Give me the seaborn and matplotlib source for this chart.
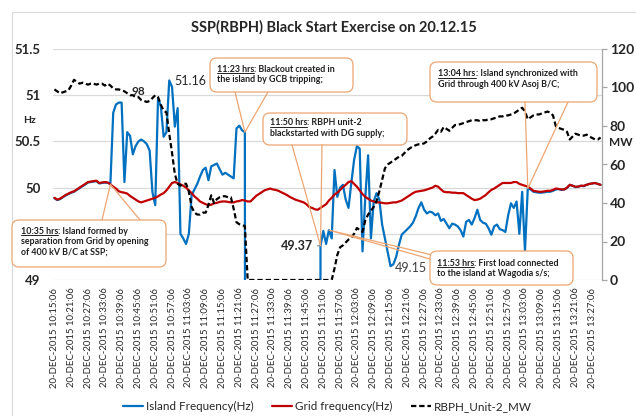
import numpy as np
import pandas as pd
import matplotlib
matplotlib.use('Agg')
import matplotlib.pyplot as plt
import seaborn as sns
from matplotlib.lines import Line2D
from matplotlib.patches import FancyBboxPatch, Rectangle
from matplotlib.transforms import IdentityTransform

# one value per minute from 10:15:06; island frequency is 0 during blackout (off scale)
island_hz = [
    49.885, 49.865, 49.875, 49.895, 49.915, 49.93, 49.945, 49.955, 49.975, 49.995,
    50.015, 50.035, 50.055, 50.06, 50.065, 50.07, 50.045, 50.05, 50.055, 50.05,
    50.05, 50.81, 50.90, 50.92, 50.92, 50.06, 50.60, 50.56, 50.36, 50.45,
    50.50, 50.52, 50.50, 50.47, 50.40, 49.95, 49.81, 50.97, 50.88, 50.55,
    50.60, 51.16, 51.09, 50.66, 50.86, 49.50, 49.45, 49.39, 49.50, 49.92,
    49.98, 50.04, 50.12, 50.19, 50.215, 50.08, 50.23, 50.245, 50.26, 50.20,
    50.14, 50.16, 50.14, 50.12, 50.10, 50.64, 50.67, 50.62, 50.60, 0,
] + [0] * 25 + [
    49.37, 49.53, 49.39, 49.54, 49.45,
    50.19, 49.90, 50.00, 50.03, 49.87, 49.78, 50.05, 50.30, 50.45, 50.42,
    49.31, 49.90, 50.35, 49.45, 49.85, 49.94, 49.87, 49.60, 49.45, 49.30,
    49.15, 49.17, 49.25, 49.38, 49.49, 49.52, 49.55, 49.58, 49.62, 49.69,
    49.78, 49.84, 49.76, 49.72, 49.74, 49.73, 49.70, 49.72, 49.64, 49.66,
    49.61, 49.56, 49.61, 49.60, 49.58, 49.54, 49.47, 49.63, 49.65, 49.60,
    49.67, 49.76, 49.65, 49.62, 49.61, 49.56, 49.49, 49.58, 49.60, 49.55,
    49.54, 49.52, 49.70, 49.83, 49.78, 49.85, 49.50, 49.955, 49.31, 49.99,
    49.98, 49.955, 49.95, 49.945, 49.945, 49.95, 49.955, 49.955, 49.965, 49.98,
    49.985, 49.975, 49.98, 49.995, 50.03, 50.02, 50.005, 50.01, 50.02, 50.015,
    50.03, 50.04, 50.045, 50.05, 50.04, 50.03,
]

grid_hz = [
    49.89, 49.87, 49.88, 49.90, 49.92, 49.935, 49.95, 49.96, 49.98, 50.00,
    50.02, 50.04, 50.06, 50.065, 50.07, 50.075, 50.05, 50.055, 50.06, 50.055,
    50.035, 50.01, 49.99, 49.96, 49.95, 49.945, 49.935, 49.91, 49.89, 49.87,
    49.85, 49.84, 49.85, 49.86, 49.87, 49.88, 49.89, 49.905, 49.925, 49.94,
    49.97, 50.01, 50.05, 50.06, 50.05, 50.035, 50.02, 50.00, 49.97, 49.94,
    49.905, 49.88, 49.85, 49.835, 49.82, 49.81, 49.815, 49.83, 49.835, 49.845,
    49.85, 49.85, 49.845, 49.84, 49.84, 49.85, 49.855, 49.865, 49.86, 49.85,
    49.85, 49.88, 49.91, 49.93, 49.95, 49.97, 49.98, 49.99, 49.98, 49.975,
    49.965, 49.95, 49.935, 49.92, 49.90, 49.885, 49.87, 49.86, 49.85, 49.84,
    49.82, 49.79, 49.78, 49.765, 49.76, 49.78, 49.80, 49.82, 49.86, 49.89,
    49.925, 49.945, 49.975, 50.005, 50.03, 50.06, 50.07, 50.04, 50.01, 49.97,
    49.93, 49.90, 49.88, 49.86, 49.85, 49.84, 49.84, 49.835, 49.83, 49.83,
    49.835, 49.84, 49.84, 49.85, 49.86, 49.88, 49.90, 49.92, 49.94, 49.955,
    49.96, 49.965, 49.97, 49.98, 49.99, 50.00, 50.02, 50.01, 49.98, 49.955,
    49.95, 49.95, 49.945, 49.945, 49.94, 49.94, 49.94, 49.92, 49.90, 49.88,
    49.865, 49.87, 49.88, 49.90, 49.92, 49.95, 49.975, 49.99, 50.01, 50.03,
    50.05, 50.05, 50.05, 50.05, 50.06, 50.06, 50.04, 50.03, 50.02, 50.01,
    49.99, 49.965, 49.96, 49.955, 49.955, 49.96, 49.965, 49.965, 49.975, 49.99,
    49.985, 49.98, 49.98, 50.00, 50.03, 50.02, 50.01, 50.01, 50.02, 50.02,
    50.03, 50.04, 50.045, 50.05, 50.04, 50.03,
]

rbph_mw = [
    99, 98, 97, 97.5, 98, 98.5, 101, 104, 103, 102,
    102.5, 102, 101.5, 102, 102, 101.5, 102, 102, 101, 102,
    101, 99.5, 99, 99, 98.5, 98, 97, 96, 96, 95,
    95, 93.5, 93, 92.5, 93, 94.5, 96, 95, 91, 88,
    87, 76, 66, 55, 50, 49, 50, 50, 46, 38,
    35, 34, 34, 35, 35, 39, 44, 40, 42, 43,
    43.5, 43.5, 43, 43, 37, 30, 29, 28.5, 28, 0,
] + [0] * 30 + [
    6, 13, 17, 18, 19.5, 21, 22, 24, 27, 26,
    25, 31, 34, 36, 38, 41, 46, 52, 58, 60,
    61, 62, 63, 64, 64.5, 66, 67.5, 68.5, 69.5, 70,
    70.5, 70.5, 71, 72, 73.5, 74.5, 76, 78, 77, 79.5,
    78.5, 77.5, 79, 80.5, 80.5, 81, 81.5, 82, 82.5, 83,
    83, 83, 82.5, 83, 83, 83.5, 83.5, 84, 84.5, 85,
    85, 85.5, 85.5, 86, 86.5, 87.5, 88.5, 89.5, 87.5, 83.5,
    84.5, 85.5, 86, 86, 86.5, 87, 87.5, 87, 85.5, 80,
    79, 78.5, 78, 77, 73, 74.5, 76, 75.5, 75, 75,
    75.5, 74.5, 73.8, 73, 73, 74,
]

series_names = ['Island Frequency(Hz)', 'Grid frequency(Hz)', 'RBPH_Unit-2_MW']
title = 'SSP(RBPH) Black Start Exercise on 20.12.15'

times = pd.date_range('2015-12-20 10:15:06', periods=len(grid_hz), freq='min')
tick_pos = list(range(0, len(times), 6))
tick_labels = [times[i].strftime('%d-%b-%Y %H:%M:%S').upper() for i in tick_pos]

df = pd.DataFrame({'idx': np.arange(len(times)), 'island': island_hz,
                   'grid': grid_hz, 'mw': rbph_mw})

sns.set_style('white')
plt.rcParams['font.family'] = ['Lato', 'DejaVu Sans']

W, H = 636, 416
BLUE, RED = '#0070C0', '#C00000'
EDGE = '#EDA672'
ident = IdentityTransform()

fig = plt.figure(figsize=(W / 100, H / 100), dpi=100)
renderer = fig.canvas.get_renderer()

ax = fig.add_axes([53 / W, 1 - 280 / H, 549 / W, 231 / H])
ax2 = ax.twinx()

sns.lineplot(data=df, x='idx', y='island', ax=ax, color=BLUE, lw=1.6)
sns.lineplot(data=df, x='idx', y='grid', ax=ax, color=RED, lw=1.6)
sns.lineplot(data=df, x='idx', y='mw', ax=ax2, color='black', lw=1.6)
ax2.lines[0].set_dashes((2.4, 1.3))

ax.set_xlim(-0.5, len(times) - 0.5)
ax.set_ylim(49, 51.5)
ax2.set_ylim(0, 120)
ax.set_xlabel('')
ax.set_ylabel('')
ax2.set_ylabel('')

# 49.5 label sits behind the 10:35 callout in the original
ax.set_yticks([49, 49.5, 50, 50.5, 51, 51.5], ['49', '', '50', '50.5', '51', '51.5'])
ax.tick_params(axis='y', length=0, pad=9, labelsize=9.5)
ax2.set_yticks(range(0, 121, 20))
ax2.tick_params(axis='y', length=3.5, width=0.9, color='#A6A6A6', pad=2, labelsize=10)
for lbl in ax.get_yticklabels() + ax2.get_yticklabels():
    lbl.set_fontweight('bold')
ax.set_xticks(tick_pos, tick_labels)
ax.tick_params(axis='x', length=0, pad=5.5, labelsize=6.9, labelrotation=90)

ax.grid(axis='y', color='#D9D9D9', lw=0.9)
ax.set_axisbelow(True)
for s in ax.spines.values():
    s.set_visible(False)
for name, s in ax2.spines.items():
    s.set_visible(name == 'right')
ax2.spines['right'].set_color('#A6A6A6')
ax2.spines['right'].set_linewidth(0.9)

# data labels
ax2.annotate('98', (25, rbph_mw[25]), xytext=(10, 0), textcoords='offset points',
             ha='center', va='center', fontsize=8.5, fontweight='bold')
ax.annotate('51.16', (41, island_hz[41]), xytext=(15, -0.7), textcoords='offset points',
            ha='center', va='center', fontsize=9)
ax.annotate('49.37', (95, island_hz[95]), xytext=(-5.5, 0), textcoords='offset points',
            ha='right', va='center', fontsize=9, fontweight='bold',
            arrowprops=dict(arrowstyle='-', color='#808080', lw=0.8,
                            shrinkA=1, shrinkB=1, relpos=(1, 0.5)))
ax.annotate('49.15', (120, island_hz[120]), xytext=(14.8, -1.6), textcoords='offset points',
            ha='center', va='center', fontsize=9, color='#404040')

fig.text(334, H - 27, title, transform=ident, ha='center', va='center',
         fontsize=10.5, fontweight='bold')
fig.text(29.5, H - 120.5, 'Hz', transform=ident, ha='center', va='center',
         fontsize=7.5, fontweight='bold')
fig.text(621, H - 142.5, 'MW', transform=ident, ha='center', va='center',
         fontsize=8.5, fontweight='bold')

# chart border (only top/left inside the picture)
fig.add_artist(Rectangle((12, -20), 700, H - 12 + 20, transform=ident,
                         fc='none', ec='#D9D9D9', lw=0.8))


def callout(box, bases, tip, text_x, baselines, hrs, first, rest, size=6.4):
    x0, y0, x1, y1 = box
    tx, ty = ax.transData.transform(tip)
    fig.add_artist(Line2D([bases[0][0], tx, bases[1][0]],
                          [H - bases[0][1], ty, H - bases[1][1]],
                          transform=ident, color=EDGE, lw=0.9))
    fig.add_artist(FancyBboxPatch((x0, H - y1), x1 - x0, y1 - y0,
                                  boxstyle='round,pad=0,rounding_size=7',
                                  transform=ident, fc='white', ec=EDGE, lw=0.9))
    kw = dict(transform=ident, ha='left', va='baseline', fontsize=size,
              fontweight='bold', color='#202020')
    t = fig.text(text_x, H - baselines[0], hrs, **kw)
    bb = t.get_window_extent(renderer)
    fig.text(bb.x1, H - baselines[0], first, **kw)
    fig.add_artist(Line2D([bb.x0, bb.x1], [H - baselines[0] - 1.5] * 2,
                          transform=ident, color='#202020', lw=0.7))
    for line, b in zip(rest, baselines[1:]):
        fig.text(text_x, H - b, line, **kw)


callout((12, 220, 166, 267), [(102, 220), (140, 220)], (20, grid_hz[20]), 20.7,
        [233.5, 244, 254.5], '10:35 hrs', ': Island formed by',
        ['separation from Grid by opening', 'of 400 kV B/C at SSP;'])
callout((210, 58, 353, 92), [(235, 92), (268, 92)], (68, island_hz[68]), 216.7,
        [71.5, 82.5], '11:23 hrs', ': Blackout created in',
        ['the island by GCB tripping;'])
callout((263, 113, 407, 145), [(292, 145), (322, 145)], (95, island_hz[95]), 270,
        [125, 136], '11:50 hrs', ': RBPH unit-2',
        ['blackstarted with DG supply;'])
callout((430, 62, 597, 102), [(525, 102), (568, 102)], (169, island_hz[169]), 438.3,
        [76, 87], '13:04 hrs', ': Island synchronized with',
        ['Grid through 400 kV Asoj B/C;'])
callout((430, 251, 573, 285), [(430, 254.5), (430, 259)], (98, island_hz[98]), 436.7,
        [265.5, 276.5], '11:53 hrs', ': First load connected',
        ['to the island at Wagodia s/s;'])

handles = [ax.lines[0], ax.lines[1], ax2.lines[0]]
fig.legend(handles, series_names, loc='center', bbox_to_anchor=(327.5 / W, 1 - 406.5 / H),
           ncol=3, frameon=False, fontsize=8.4, handlelength=1.7,
           handletextpad=0.25, columnspacing=1.6)

fig.savefig('out.png', dpi=100, facecolor='white')
